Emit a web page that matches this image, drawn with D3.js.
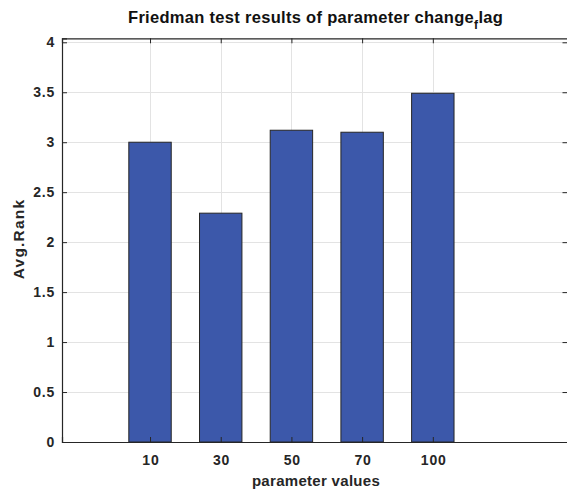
<!DOCTYPE html>
<html>
<head>
<meta charset="utf-8">
<script src="https://cdn.jsdelivr.net/npm/d3@7"></script>
<style>
  html, body { margin: 0; padding: 0; background: #fff; }
  svg { display: block; font-family: "Liberation Sans", Arial, sans-serif; }
</style>
</head>
<body>
<svg id="chart" width="567" height="495"></svg>
<script>
// Average Friedman ranks for each parameter value
const categories = ["10", "30", "50", "70", "100"];
const avgRank = [3.00, 2.29, 3.12, 3.10, 3.49];
const yTicks = [0, 0.5, 1, 1.5, 2, 2.5, 3, 3.5, 4];

const svg = d3.select("#chart");
const plotLeft = 62, plotRight = 567.5, plotTop = 38.3, plotBottom = 442;

// bars sit at positions 1..n on a numeric axis
const x = d3.scaleLinear().domain([-0.245, 6.905]).range([plotLeft, plotRight]);
const y = d3.scaleLinear().domain([0, 4.04]).range([plotBottom, plotTop]);
const pos = categories.map((c, i) => i + 1);
const barW = 0.6;

// grid
const grid = svg.append("g");
grid.selectAll("line.h").data(yTicks).join("line")
  .attr("x1", plotLeft).attr("x2", plotRight)
  .attr("y1", d => Math.round(y(d)) + 0.5).attr("y2", d => Math.round(y(d)) + 0.5)
  .attr("stroke", "#e3e3e3").attr("stroke-width", 1);
grid.selectAll("line.v").data(pos).join("line")
  .attr("y1", plotTop).attr("y2", plotBottom)
  .attr("x1", d => Math.round(x(d)) + 0.5).attr("x2", d => Math.round(x(d)) + 0.5)
  .attr("stroke", "#e3e3e3").attr("stroke-width", 1);

// bars
svg.append("g").selectAll("rect").data(avgRank).join("rect")
  .attr("x", (d, i) => x(pos[i] - barW / 2))
  .attr("width", x(barW) - x(0))
  .attr("y", d => y(d))
  .attr("height", d => plotBottom - y(d))
  .attr("fill", "#3c58aa")
  .attr("stroke", "#262626")
  .attr("stroke-width", 1);

// axes with inward ticks
const axisColor = "#262626";
const yAxis = d3.axisLeft(y).tickValues(yTicks).tickSize(-5).tickPadding(7)
  .tickFormat(d3.format("~g"));
const gy = svg.append("g").attr("transform", `translate(${plotLeft},0)`).call(yAxis);

const yAxisR = d3.axisRight(y).tickValues(yTicks).tickSize(-5).tickFormat("");
const gyr = svg.append("g").attr("transform", `translate(${plotRight},0)`).call(yAxisR);
gyr.select(".domain").remove();

const xAxis = d3.axisBottom(x).tickValues(pos).tickSize(-5).tickPadding(13)
  .tickFormat((d, i) => categories[i]);
const gx = svg.append("g").attr("transform", `translate(0,${plotBottom})`).call(xAxis);

const xAxisT = d3.axisTop(x).tickValues(pos).tickSize(-5).tickFormat("");
const gxt = svg.append("g").attr("transform", `translate(0,${plotTop})`).call(xAxisT);

[gy, gyr, gx, gxt].forEach(g => {
  g.select(".domain").attr("stroke", axisColor).attr("stroke-width", 1.2);
  g.selectAll(".tick line").attr("stroke", axisColor);
  g.selectAll(".tick text")
    .attr("fill", "#262626")
    .style("font-size", "14px")
    .style("font-weight", "bold")
    .style("letter-spacing", "0.8px")
    .style("font-family", "'Liberation Sans', Arial, sans-serif");
});
gx.selectAll(".tick text").attr("dx", "0.4px");

// title with subscript
const title = svg.append("text")
  .attr("x", 128).attr("y", 23)
  .attr("fill", "#111")
  .style("font-size", "16.5px").style("font-weight", "bold")
  .style("letter-spacing", "0.3px");
title.append("tspan").text("Friedman test results of parameter change");
title.append("tspan").attr("dy", 6).style("font-size", "12px").text("f");
title.append("tspan").attr("dy", -6).text("lag");

// axis labels
svg.append("text")
  .attr("x", 316).attr("y", 486)
  .attr("text-anchor", "middle")
  .attr("fill", "#262626")
  .style("font-size", "15px").style("font-weight", "bold")
  .style("letter-spacing", "0.3px")
  .text("parameter values");

svg.append("text")
  .attr("transform", "translate(24,239) rotate(-90)")
  .attr("text-anchor", "middle")
  .attr("fill", "#262626")
  .style("font-size", "15.5px").style("font-weight", "bold")
  .style("letter-spacing", "1.2px")
  .text("Avg.Rank");
</script>
</body>
</html>
